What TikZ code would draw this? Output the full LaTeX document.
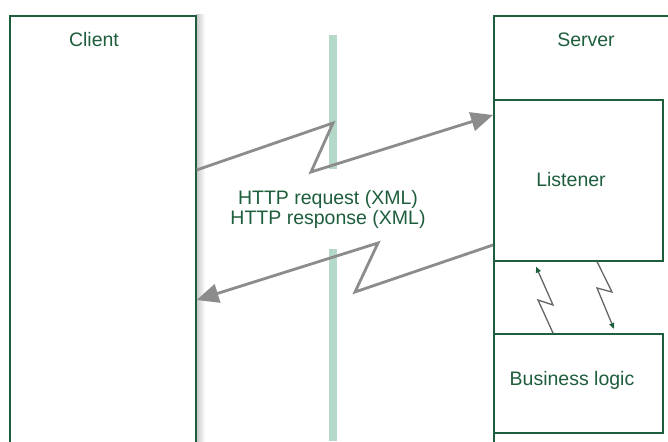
\documentclass[tikz,border=0pt]{standalone}
\usepackage{fontspec}
\setmainfont{Liberation Sans}
\usetikzlibrary{arrows.meta,calc}
\definecolor{boxgreen}{HTML}{1E5E3C}
\definecolor{bargreen}{HTML}{B4D9C8}
\definecolor{wiregray}{HTML}{8C8C8C}
\tikzset{
  box/.style={draw=boxgreen, line width=1.6pt, anchor=north west, inner sep=0pt},
  lbl/.style={text=boxgreen, font=\fontsize{19.5}{20}\selectfont, anchor=base},
  wire/.style={draw=wiregray, line width=2.8pt, -{Triangle[length=22pt,width=19pt]}},
  link/.style={draw=gray!80!black, line width=1.3pt, -{Triangle[length=6pt,width=5pt,color=boxgreen]}},
}
\begin{document}
\begin{tikzpicture}[x=1pt,y=-1pt]
  \clip (0,0) rectangle (668,441);
  \fill[white] (0,0) rectangle (668,441);
  \shade[left color=gray!45, right color=white] (196,15) rectangle (205,441);
  \node[box, minimum width=186pt, minimum height=460pt] (client) at (9,15) {};
  \node[box, minimum width=200pt, minimum height=460pt] (server) at (493,15) {};
  \node[box, minimum width=169pt, minimum height=161pt] (listener) at (493,99) {};
  \node[box, minimum width=169pt, minimum height=99pt] (business) at (493,333) {};
  \node[lbl] (clientlbl) at (94,47) {Client};
  \node[lbl] (serverlbl) at (586,47) {Server};
  \node[lbl] (listenerlbl) at (571,186) {Listener};
  \node[lbl] (businesslbl) at (572,385) {Business logic};
  % the wire between both sides
  \draw[bargreen, line width=8pt] (333,35) -- (333,441);
  \node[lbl, anchor=center, align=center, fill=white, inner ysep=21pt, inner xsep=4pt] (http) at (328,209)
    {HTTP request (XML)\\HTTP response (XML)};
  \draw[wire] (client.east |- 0,170) -- (333,123) -- (311,172) -- (listener.west |- 0,115);
  \draw[wire] (listener.west |- 0,245) -- (355,292) -- (378,243) -- (client.east |- 0,300);
  % listener <-> business logic
  \draw[link] (business.north -| 553,0) -- (538,300) -- (553,305) -- ($(listener.south -| 536,0)+(0,5)$);
  \draw[link] (listener.south -| 597,0) -- (612,292) -- (597,288) -- ($(business.north -| 614,0)+(0,-4)$);
\end{tikzpicture}
\end{document}
